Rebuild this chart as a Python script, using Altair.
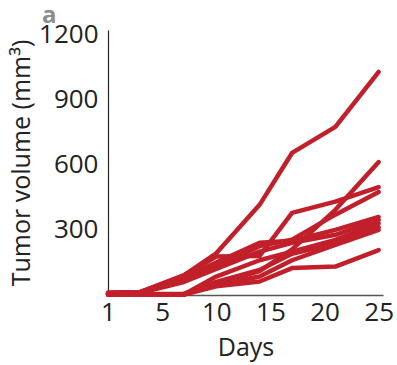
import altair as alt
import pandas as pd

# Measurement days (first measurement is labelled as day 1 on the axis)
days = [0, 3, 7, 10, 14, 17, 21, 25]

# Tumor volume (mm³) per mouse at each measurement day
mouse_1 = [8, 12, 90, 192, 415, 654, 774, 1027]
mouse_2 = [4, 4, 6, 50, 110, 210, 392, 612]
mouse_3 = [10, 14, 90, 177, 180, 378, 430, 497]
mouse_4 = [8, 12, 70, 130, 225, 255, 370, 474]
mouse_5 = [10, 14, 80, 150, 240, 250, 300, 359]
mouse_6 = [6, 10, 60, 120, 200, 240, 277, 345]
mouse_7 = [2, 2, 2, 85, 160, 200, 254, 330]
mouse_8 = [2, 2, 2, 60, 115, 190, 238, 312]
mouse_9 = [2, 2, 2, 45, 85, 160, 231, 300]
mouse_10 = [2, 2, 2, 40, 62, 124, 131, 207]

series = [mouse_1, mouse_2, mouse_3, mouse_4, mouse_5,
          mouse_6, mouse_7, mouse_8, mouse_9, mouse_10]

rows = []
for i, vals in enumerate(series, start=1):
    for d, v in zip(days, vals):
        rows.append({"mouse": f"M{i}", "day": d, "volume": v})
df = pd.DataFrame(rows)

FONT = "Open Sans"
RED = "#c1202b"

lines = alt.Chart(df).mark_line(
    color=RED, strokeWidth=4.5, strokeCap="round", strokeJoin="round"
).encode(
    x=alt.X(
        "day:Q",
        scale=alt.Scale(domain=[0, 25.4], nice=False),
        axis=alt.Axis(
            title="Days",
            values=[0, 5, 10, 15, 20, 25],
            labelExpr="datum.value == 0 ? '1' : datum.label",
            grid=False, ticks=False, labelPadding=4, titlePadding=10,
            domainColor="#555555", domainWidth=1.5,
            labelFont=FONT, labelFontSize=26, labelColor="#222222",
            titleFont=FONT, titleFontSize=25, titleColor="#222222",
            titleFontWeight="normal", labelFlush=False,
        ),
    ),
    y=alt.Y(
        "volume:Q",
        scale=alt.Scale(domain=[0, 1220], nice=False),
        axis=alt.Axis(
            title="Tumor volume (mm³)",
            values=[300, 600, 900, 1200],
            format="d",
            grid=False, ticks=False, labelPadding=10, titlePadding=4,
            domainColor="#222222", domainWidth=1.2,
            labelFont=FONT, labelFontSize=26, labelColor="#222222",
            titleFont=FONT, titleFontSize=25, titleColor="#222222",
            titleFontWeight="normal", labelFlush=False,
        ),
    ),
    detail="mouse:N",
)

panel_label = alt.Chart(pd.DataFrame({"t": ["a"]})).mark_text(
    font=FONT, fontSize=24, fontWeight="bold", color="#8c8c8c",
    align="left", baseline="alphabetic",
).encode(text="t:N", x=alt.value(-66), y=alt.value(-7))

chart = alt.layer(lines, panel_label).properties(
    width=275, height=265,
    padding={"left": 108, "top": 30, "right": 14, "bottom": 70},
    autosize=alt.AutoSizeParams(type="none"),
).configure_view(stroke=None)

chart.save("out.html", embed_options={"renderer": "svg", "actions": False})
